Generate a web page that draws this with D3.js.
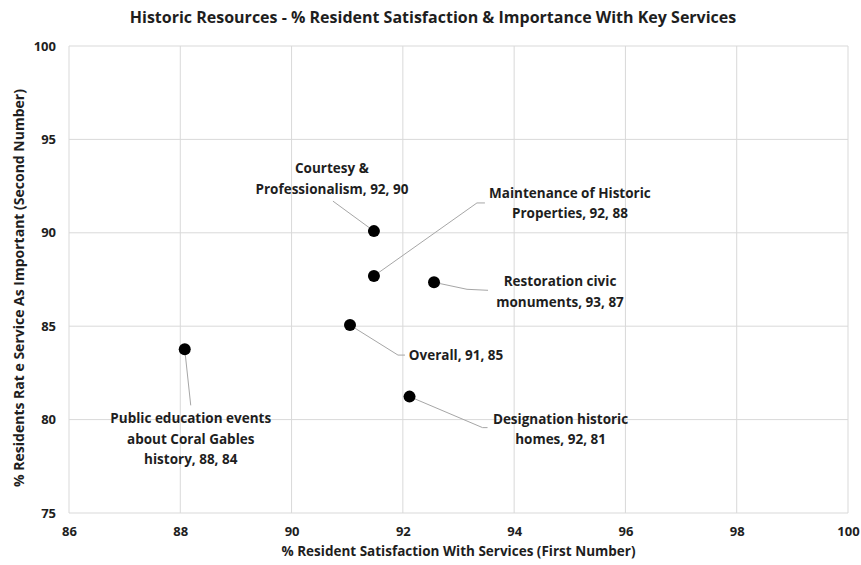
<!DOCTYPE html>
<html>
  <head>
    <meta charset="utf-8">
    <title>Historic Resources scatter</title>
    <script src="https://d3js.org/d3.v7.min.js"></script>
    <style>
      body { margin: 0; background: #fff; }
      text { font-family: "Open Sans", sans-serif; fill: #1e1e1e; }
    </style>
  </head>
  <body>
    <div id="chart"></div>

    <script>
      // Values
      const names = [
        ['Courtesy &', 'Professionalism, 92, 90'],
        ['Maintenance of Historic', 'Properties, 92, 88'],
        ['Restoration civic', 'monuments, 93, 87'],
        ['Overall, 91, 85'],
        ['Public education events', 'about Coral Gables', 'history, 88, 84'],
        ['Designation historic', 'homes, 92, 81']
      ];
      const satisfaction = [91.48, 91.48, 92.56, 91.05, 88.08, 92.12];
      const importance = [90.09, 87.69, 87.35, 85.06, 83.76, 81.23];
      const xTicks = [86, 88, 90, 92, 94, 96, 98, 100];
      const yTicks = [75, 80, 85, 90, 95, 100];

      // Label placement relative to each point (pixels): text anchor, then leader path
      const labelLayout = [
        { dx: -42, dy: -58, leader: [[-41, -30]] },
        { dx: 196, dy: -78, leader: [[103, -73], [111, -73]] },
        { dx: 126, dy: 4, leader: [[33, 7], [54, 8]] },
        { dx: 106, dy: 35, leader: [[48, 30], [55, 30]] },
        { dx: 6, dy: 74, leader: [[6, 56]] },
        { dx: 151, dy: 27, leader: [[73, 31], [78, 31]] }
      ];

      const width = 861, height = 565;
      const margin = { top: 46, right: 13, bottom: 52, left: 69 };

      const svg = d3.select('#chart')
        .append('svg')
        .attr('width', width)
        .attr('height', height);

      const x = d3.scaleLinear().domain([86, 100]).range([margin.left, width - margin.right]);
      const y = d3.scaleLinear().domain([75, 100]).range([height - margin.bottom, margin.top]);

      // Grid lines
      svg.append('g')
        .selectAll('line')
        .data(xTicks)
        .enter()
        .append('line')
        .attr('x1', d => x(d)).attr('x2', d => x(d))
        .attr('y1', y(75)).attr('y2', y(100))
        .attr('stroke', '#d9d9d9');

      svg.append('g')
        .selectAll('line')
        .data(yTicks)
        .enter()
        .append('line')
        .attr('x1', x(86)).attr('x2', x(100))
        .attr('y1', d => y(d)).attr('y2', d => y(d))
        .attr('stroke', '#d9d9d9');

      // Axes (labels only, Excel style)
      const xAxis = svg.append('g')
        .attr('transform', `translate(0,${y(75) + 8})`)
        .call(d3.axisBottom(x).tickValues(xTicks).tickSize(0).tickPadding(6));
      xAxis.select('.domain').remove();
      xAxis.selectAll('text')
        .style('font-size', '13px')
        .style('font-weight', 'bold')
        .attr('fill', '#1e1e1e');

      const yAxis = svg.append('g')
        .attr('transform', `translate(${x(86) - 13},0)`)
        .call(d3.axisLeft(y).tickValues(yTicks).tickSize(0).tickPadding(0));
      yAxis.select('.domain').remove();
      yAxis.selectAll('text')
        .style('font-size', '13px')
        .style('font-weight', 'bold')
        .attr('fill', '#1e1e1e');

      // Leader lines
      const line = d3.line();
      svg.append('g')
        .selectAll('path')
        .data(names.map((n, i) => i))
        .enter()
        .append('path')
        .attr('d', i => {
          const px = x(satisfaction[i]), py = y(importance[i]);
          const pts = [[px, py]].concat(labelLayout[i].leader.map(p => [px + p[0], py + p[1]]));
          return line(pts);
        })
        .attr('fill', 'none')
        .attr('stroke', '#a6a6a6')
        .attr('stroke-width', 1);

      // Points
      svg.append('g')
        .selectAll('circle')
        .data(names.map((n, i) => i))
        .enter()
        .append('circle')
        .attr('cx', i => x(satisfaction[i]))
        .attr('cy', i => y(importance[i]))
        .attr('r', 6)
        .attr('fill', '#000');

      // Data labels
      const labels = svg.append('g')
        .selectAll('text')
        .data(names.map((n, i) => i))
        .enter()
        .append('text')
        .attr('text-anchor', 'middle')
        .style('font-size', '13.5px')
        .style('font-weight', 'bold')
        .attr('transform', i => `translate(${x(satisfaction[i]) + labelLayout[i].dx},${y(importance[i]) + labelLayout[i].dy})`);

      labels.selectAll('tspan')
        .data(i => names[i])
        .enter()
        .append('tspan')
        .attr('x', 0)
        .attr('dy', (d, j) => j === 0 ? 0 : 20.5)
        .text(d => d);

      // Title
      svg.append('text')
        .attr('x', 433)
        .attr('y', 23)
        .attr('text-anchor', 'middle')
        .style('font-size', '16px')
        .style('font-weight', 'bold')
        .text('Historic Resources - % Resident Satisfaction & Importance With Key Services');

      // Axis titles
      svg.append('text')
        .attr('x', (x(86) + x(100)) / 2)
        .attr('y', 556)
        .attr('text-anchor', 'middle')
        .style('font-size', '13.5px')
        .style('font-weight', 'bold')
        .text('% Resident Satisfaction With Services (First Number)');

      svg.append('text')
        .attr('transform', 'translate(24,288) rotate(-90)')
        .attr('text-anchor', 'middle')
        .style('font-size', '14px')
        .style('font-weight', 'bold')
        .text('% Residents Rat e Service As Important (Second Number)');
    </script>
  </body>
</html>
